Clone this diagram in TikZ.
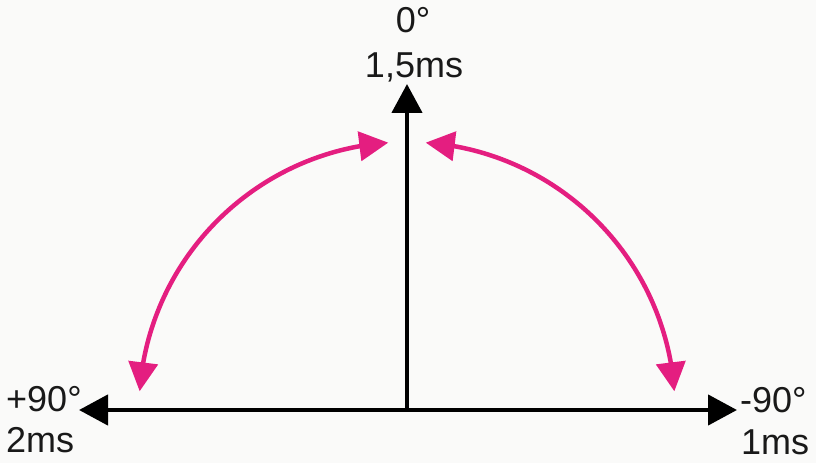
\documentclass[tikz,border=0pt]{standalone}
\usepackage{fontspec}
\setmainfont{Liberation Sans}
\usetikzlibrary{arrows.meta,bending}
\definecolor{bgcol}{RGB}{250,250,249}
\definecolor{pinkarc}{RGB}{228,30,128}
\begin{document}
\begin{tikzpicture}[x=1pt,y=1pt,
  axis/.style={line width=4.5pt,black,-{Triangle[length=29pt,width=30pt]}},
  swing/.style={line width=4.5pt,pinkarc,{Triangle[length=29pt,width=29pt,flex]}-{Triangle[length=29pt,width=29pt,flex]}},
  lbl/.style={inner sep=0pt,font=\fontsize{36}{40}\selectfont,text=black!90}]
\fill[bgcol] (0,0) rectangle (816,463);
\useasboundingbox (0,0) rectangle (816,463);
\coordinate (O) at (407,53);
\coordinate (top) at (407,379);
\coordinate (left) at (79,53);
\coordinate (right) at (737,53);
\draw[axis] (O) -- (top);
\draw[axis] (O) -- (left);
\draw[axis] (O) -- (right);
\draw[swing] ([shift={(94:268pt)}]O) arc[start angle=94,end angle=176,radius=268pt];
\draw[swing] ([shift={(86:268pt)}]O) arc[start angle=86,end angle=4,radius=268pt];
\node[lbl,anchor=base] (zdeg) at (413,430) {0°};
\node[lbl,anchor=base] (zms) at (414,385) {1,5ms};
\node[lbl,anchor=base west] (pdeg) at (6,51) {+90°};
\node[lbl,anchor=base west] (pms) at (6,11) {2ms};
\node[lbl,anchor=base west] (mdeg) at (740,50) {-90°};
\node[lbl,anchor=base west] (mms) at (741,9) {1ms};
\end{tikzpicture}
\end{document}
